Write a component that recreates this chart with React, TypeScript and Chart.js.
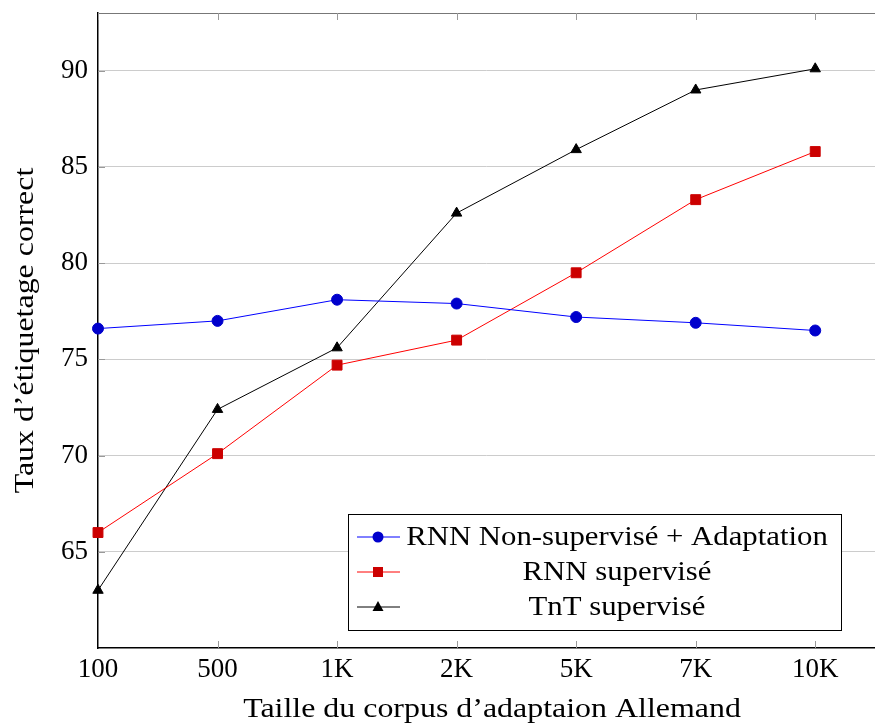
import React, { useEffect, useRef } from "react";
import { Chart, registerables } from "chart.js";

Chart.register(...registerables);

const categories = ["100", "500", "1K", "2K", "5K", "7K", "10K"];
const rnnUnsupAdapt = [76.6, 77.0, 78.1, 77.9, 77.2, 76.9, 76.5];
const rnnSup = [66.0, 70.1, 74.7, 76.0, 79.5, 83.3, 85.8];
const tntSup = [63.0, 72.4, 75.6, 82.6, 85.9, 89.0, 90.1];
const yTicks = [65, 70, 75, 80, 85, 90];
const seriesNames = ["RNN Non-supervisé + Adaptation", "RNN supervisé", "TnT supervisé"];
const xTitle = "Taille du corpus d’adaptaion Allemand";
const yTitle = "Taux d’étiquetage correct";

const FONT = "'Liberation Serif', 'DejaVu Serif', serif";
const FS = 27;
const TFS = 28;
const LFS = 27;
const STRETCH = 1.14;

function stretchedText(ctx: any, text: string, x: number, y: number) {
  ctx.save();
  ctx.translate(x, y);
  ctx.scale(STRETCH, 1);
  ctx.fillText(text, 0, 0);
  ctx.restore();
}

const decorPlugin = {
  id: "decor",
  beforeDatasetsDraw(chart: any) {
    const { ctx, chartArea } = chart;
    const { left, right, top, bottom } = chartArea;
    const xs = chart.scales.x;
    const ys = chart.scales.y;
    ctx.save();
    ctx.strokeStyle = "#777";
    ctx.lineWidth = 1;
    ctx.beginPath();
    ctx.moveTo(left, top + 0.5);
    ctx.lineTo(right + 20, top + 0.5);
    ctx.stroke();
    ctx.strokeStyle = "#999";
    ctx.beginPath();
    for (let i = 0; i < categories.length; i++) {
      const px = Math.round(xs.getPixelForValue(i)) + 0.5;
      if (i > 0) {
        ctx.moveTo(px, bottom);
        ctx.lineTo(px, bottom - 7);
      }
      ctx.moveTo(px, top);
      ctx.lineTo(px, top + 7);
    }
    for (const v of yTicks) {
      const py = Math.round(ys.getPixelForValue(v)) + 0.5;
      ctx.moveTo(left, py);
      ctx.lineTo(left + 7, py);
    }
    ctx.stroke();
    ctx.restore();
  },
  afterDatasetsDraw(chart: any) {
    const { ctx, chartArea } = chart;
    const { right, top, bottom } = chartArea;
    ctx.save();
    const bx = right - 527, by = bottom - 134, bw = 493, bh = 116;
    ctx.fillStyle = "#fff";
    ctx.fillRect(bx, by, bw, bh);
    ctx.strokeStyle = "#000";
    ctx.lineWidth = 1;
    ctx.strokeRect(bx + 0.5, by + 0.5, bw, bh);
    const rowsY = [by + 23, by + 58, by + 93];
    const textCx = bx + 269;
    chart.data.datasets.forEach((ds: any, i: number) => {
      const y = rowsY[i];
      ctx.strokeStyle = ds.borderColor;
      ctx.lineWidth = 1;
      ctx.beginPath();
      ctx.moveTo(bx + 9, y);
      ctx.lineTo(bx + 52, y);
      ctx.stroke();
      ctx.fillStyle = ds.pointBackgroundColor;
      const mx = bx + 30;
      ctx.beginPath();
      if (ds.pointStyle === "circle") {
        ctx.arc(mx, y, 5.5, 0, Math.PI * 2);
      } else if (ds.pointStyle === "rect") {
        ctx.rect(mx - 5, y - 5, 10, 10);
      } else {
        ctx.moveTo(mx, y - 6);
        ctx.lineTo(mx + 5.5, y + 4);
        ctx.lineTo(mx - 5.5, y + 4);
        ctx.closePath();
      }
      ctx.fill();
      ctx.fillStyle = "#000";
      ctx.font = `${LFS}px ${FONT}`;
      ctx.textAlign = "center";
      ctx.textBaseline = "middle";
      stretchedText(ctx, seriesNames[i], textCx, y + 1);
    });
    ctx.fillStyle = "#000";
    ctx.font = `${TFS}px ${FONT}`;
    ctx.textAlign = "center";
    ctx.textBaseline = "middle";
    stretchedText(ctx, xTitle, 492, 710);
    ctx.translate(26, (top + bottom) / 2);
    ctx.rotate(-Math.PI / 2);
    stretchedText(ctx, yTitle, 0, 0);
    ctx.restore();
  },
};

export default function App() {
  const ref = useRef<HTMLCanvasElement>(null);
  useEffect(() => {
    document.body.style.margin = "0";
    const mk = (arr: number[]) => arr.map((v, i) => ({ x: i, y: v }));
    const chart = new Chart(ref.current!, {
      type: "line",
      data: {
        datasets: [
          {
            label: seriesNames[0],
            data: mk(rnnUnsupAdapt),
            borderColor: "#0000ff",
            backgroundColor: "#0000cc",
            pointBackgroundColor: "#0000cc",
            pointBorderColor: "#0000cc",
            pointStyle: "circle",
            pointRadius: 5.5,
            borderWidth: 1,
            clip: false,
          } as any,
          {
            label: seriesNames[1],
            data: mk(rnnSup),
            borderColor: "#ff0000",
            backgroundColor: "#cc0000",
            pointBackgroundColor: "#cc0000",
            pointBorderColor: "#cc0000",
            pointStyle: "rect",
            pointRadius: 7,
            borderWidth: 1,
            clip: false,
          } as any,
          {
            label: seriesNames[2],
            data: mk(tntSup),
            borderColor: "#000000",
            backgroundColor: "#000000",
            pointBackgroundColor: "#000000",
            pointBorderColor: "#000000",
            pointStyle: "triangle",
            pointRadius: 6,
            borderWidth: 1,
            clip: false,
          } as any,
        ],
      },
      options: {
        animation: false,
        responsive: false,
        layout: { autoPadding: false, padding: { top: 13, right: 0, left: 0, bottom: 0 } },
        plugins: { legend: { display: false }, tooltip: { enabled: false } },
        scales: {
          x: {
            type: "linear",
            min: 0,
            max: 6.5,
            afterBuildTicks: (s: any) => {
              s.ticks = categories.map((_, i) => ({ value: i }));
            },
            afterFit: (s: any) => {
              s.height = 76;
              s.paddingLeft = 0;
              s.paddingRight = 0;
            },
            ticks: {
              callback: (v: any) => categories[v] ?? "",
              font: { family: FONT, size: FS },
              color: "#000",
              padding: 6,
              maxRotation: 0,
              autoSkip: false,
            },
            grid: { display: false, drawTicks: false },
            border: { color: "#000", width: 1.5 },
          },
          y: {
            min: 60,
            max: 93,
            afterBuildTicks: (s: any) => {
              s.ticks = yTicks.map((v) => ({ value: v }));
            },
            afterFit: (s: any) => {
              s.width = 98;
              s.paddingTop = 0;
              s.paddingBottom = 0;
            },
            ticks: {
              font: { family: FONT, size: FS },
              color: "#000",
              padding: 10,
            },
            grid: { color: "#cccccc", lineWidth: 1, drawTicks: false },
            border: { color: "#000", width: 1.5 },
          },
        },
      },
      plugins: [decorPlugin],
    });
    return () => chart.destroy();
  }, []);
  return <canvas ref={ref} width={875} height={724} style={{ display: "block" }} />;
}
